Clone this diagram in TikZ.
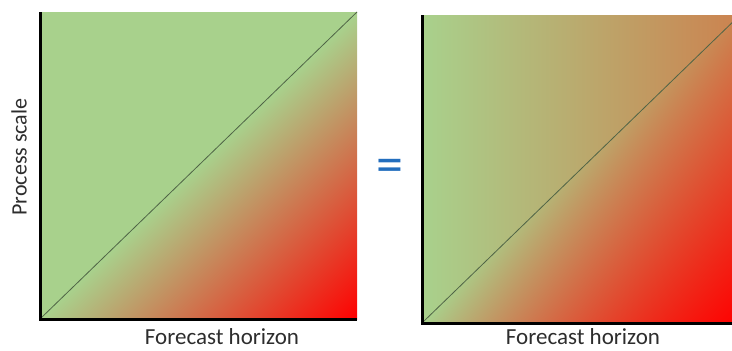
\documentclass[tikz,border=0pt]{standalone}
\usepackage{fontspec}
\setmainfont{Carlito}

\definecolor{diagcol}{RGB}{80,100,70}
\definecolor{eqblue}{RGB}{35,110,190}
\definecolor{txtgray}{RGB}{45,45,45}

% green everywhere, red growing from the diagonal to the lower right corner
\pgfdeclarefunctionalshading{halfshade}{\pgfpointorigin}{\pgfpoint{100bp}{100bp}}{}{
  25 sub exch 25 sub exch sub 50 div dup 0 lt {pop 0} if
  dup 0.34 mul 0.66 add exch
  1 exch sub dup 0.82 mul exch 0.55 mul
}
% same red part, laid over a green to orange ramp from left to right
\pgfdeclarefunctionalshading{fullshade}{\pgfpointorigin}{\pgfpoint{100bp}{100bp}}{}{
  25 sub 50 div exch 25 sub 50 div exch
  1 index exch sub dup 0 lt {pop 0} if
  1 index 0.14 mul 0.66 add 1 index 1 exch sub mul 1 index add 3 1 roll
  1 index -0.31 mul 0.82 add 1 index 1 exch sub mul 3 1 roll
  1 exch sub exch -0.24 mul 0.55 add mul
}

\begin{document}
\begin{tikzpicture}[x=1pt,y=-1pt,
    axis/.style={black,line width=3pt},
    diag/.style={diagcol,line width=0.8pt},
    lbl/.style={text=txtgray,font=\fontsize{22}{26}\selectfont,inner sep=0pt}]
  \useasboundingbox (0,0) rectangle (732,351);

  % left panel
  \coordinate (o1) at (40,319);
  \coordinate (x1) at (357,319);
  \coordinate (y1) at (40,12);
  \coordinate (t1) at (357,12);
  \shade[shading=halfshade] (o1) rectangle (t1);
  \draw[diag] (o1) -- (t1);
  \draw[axis] (y1) -- (o1) -- (x1);

  % right panel, runs past the right edge
  \begin{scope}
    \clip (0,0) rectangle (732,351);
    \coordinate (o2) at (422,323);
    \coordinate (x2) at (740,323);
    \coordinate (y2) at (422,15);
    \coordinate (t2) at (740,15);
    \shade[shading=fullshade] (o2) rectangle (t2);
    \draw[diag] (o2) -- (t2);
    \draw[axis] (y2) -- (o2) -- (x2);
  \end{scope}

  \node[lbl,rotate=90] (ps) at (19,157) {Process scale};
  \node[lbl,font=\fontsize{23}{27}\selectfont] (fh1) at (222,337) {Forecast horizon};
  \node[lbl,font=\fontsize{23}{27}\selectfont] (fh2) at (583,337) {Forecast horizon};
  \node[text=eqblue,font=\fontsize{54}{60}\selectfont,inner sep=0pt] (eq) at (390,171) {=};
\end{tikzpicture}
\end{document}
